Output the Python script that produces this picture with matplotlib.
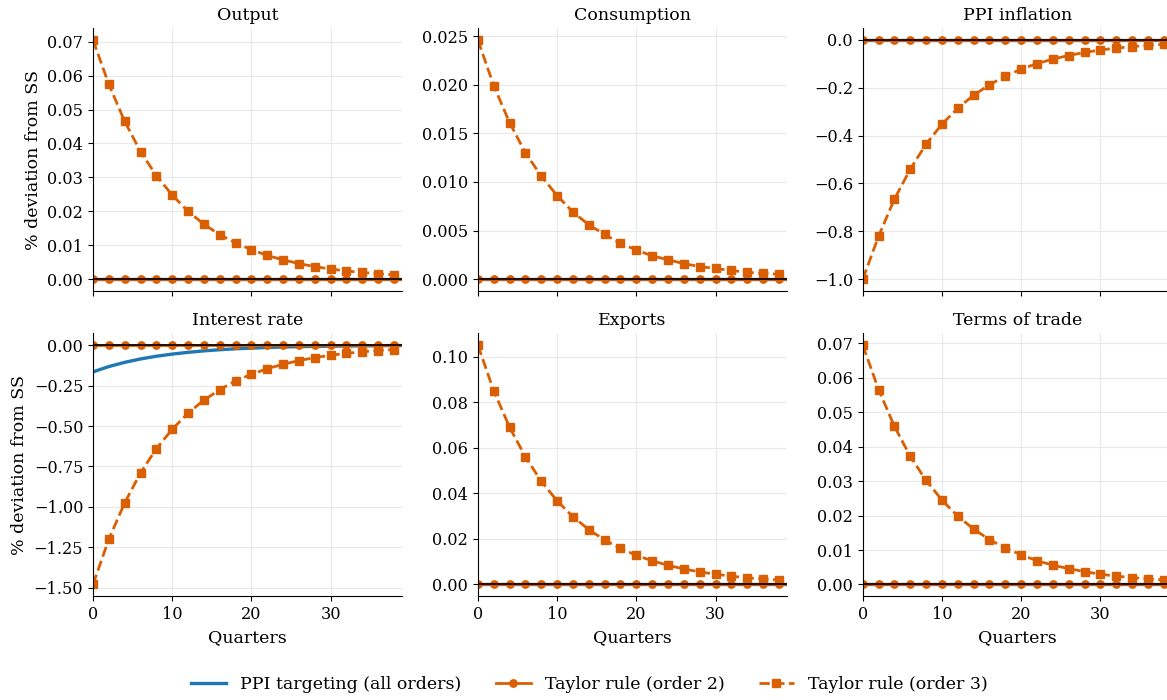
import numpy as np
import matplotlib
matplotlib.use("Agg")
import matplotlib.pyplot as plt

plt.rcParams['font.family'] = ['DejaVu Serif']

# quarters where responses are stored (every 2nd quarter, plus the last one)
quarters = [0, 2, 4, 6, 8, 10, 12, 14, 16, 18, 20, 22, 24, 26, 28, 30, 32, 34, 36, 38, 39]

titles = ["Output", "Consumption", "PPI inflation",
          "Interest rate", "Exports", "Terms of trade"]

# PPI targeting (all orders): only the interest rate moves
ppi_output = [0.0] * 21
ppi_consumption = [0.0] * 21
ppi_inflation = [0.0] * 21
ppi_interest = [-0.165, -0.132, -0.106, -0.085, -0.068, -0.055, -0.044, -0.035, -0.028,
                -0.022, -0.018, -0.014, -0.011, -0.009, -0.007, -0.006, -0.005, -0.004,
                -0.003, -0.002, -0.002]
ppi_exports = [0.0] * 21
ppi_tot = [0.0] * 21

# Taylor rule, second order solution
tr2_output = [0.0] * 21
tr2_consumption = [0.0] * 21
tr2_inflation = [0.0] * 21
tr2_interest = [0.0] * 21
tr2_exports = [0.0] * 21
tr2_tot = [0.0] * 21

# Taylor rule, third order solution
tr3_output = [0.0705, 0.0574, 0.0465, 0.0376, 0.0305, 0.0248, 0.0200, 0.0162, 0.0131,
              0.0107, 0.0087, 0.0070, 0.0057, 0.0046, 0.0037, 0.0030, 0.0024, 0.0020,
              0.0016, 0.0013, 0.0012]
tr3_consumption = [0.0246, 0.0199, 0.0161, 0.0130, 0.0106, 0.0086, 0.0069, 0.0056, 0.0046,
                   0.0037, 0.0030, 0.0024, 0.0020, 0.0016, 0.0013, 0.0011, 0.0009, 0.0007,
                   0.0006, 0.0005, 0.0004]
tr3_inflation = [-1.00, -0.82, -0.665, -0.54, -0.435, -0.352, -0.285, -0.231, -0.187,
                 -0.151, -0.122, -0.099, -0.080, -0.065, -0.052, -0.042, -0.034, -0.028,
                 -0.022, -0.018, -0.016]
tr3_interest = [-1.48, -1.20, -0.975, -0.79, -0.64, -0.52, -0.42, -0.34, -0.275,
                -0.22, -0.18, -0.145, -0.118, -0.095, -0.077, -0.062, -0.050, -0.041,
                -0.033, -0.027, -0.024]
tr3_exports = [0.105, 0.085, 0.069, 0.056, 0.0453, 0.0367, 0.0297, 0.0241, 0.0195,
               0.0158, 0.0128, 0.0104, 0.0084, 0.0068, 0.0055, 0.0045, 0.0036, 0.0029,
               0.0024, 0.0019, 0.0017]
tr3_tot = [0.0695, 0.0566, 0.0459, 0.0372, 0.0302, 0.0245, 0.0198, 0.0161, 0.0130,
           0.0106, 0.0086, 0.0069, 0.0056, 0.0046, 0.0037, 0.0030, 0.0024, 0.0020,
           0.0016, 0.0013, 0.0011]

ppi_all = [ppi_output, ppi_consumption, ppi_inflation, ppi_interest, ppi_exports, ppi_tot]
tr2_all = [tr2_output, tr2_consumption, tr2_inflation, tr2_interest, tr2_exports, tr2_tot]
tr3_all = [tr3_output, tr3_consumption, tr3_inflation, tr3_interest, tr3_exports, tr3_tot]

blue = '#1f77b4'
orange = '#d95f02'
marks = slice(0, 20)  # markers on the even quarters only

fig, axes = plt.subplots(2, 3, figsize=(11.67, 7.0), dpi=100, sharex=True)

for k, ax in enumerate(axes.flat):
    ax.plot(quarters, ppi_all[k], color=blue, lw=2.4, label='PPI targeting (all orders)')
    ax.plot(quarters, tr2_all[k], color=orange, lw=2, marker='o', ms=5.3,
            markevery=marks, label='Taylor rule (order 2)')
    ax.plot(quarters, tr3_all[k], color=orange, lw=2, ls='--', marker='s', ms=5.3,
            markevery=marks, label='Taylor rule (order 3)')
    ax.axhline(0, color='black', lw=1.2, zorder=4)
    ax.set_title(titles[k], fontsize=12.5)
    ax.set_xlim(0, 39)
    ax.grid(True, color='#e0e0e0', lw=0.8, alpha=0.7)
    ax.spines['top'].set_visible(False)
    ax.spines['right'].set_visible(False)
    ax.tick_params(labelsize=11.6)
    if k % 3 == 0:
        ax.set_ylabel('% deviation from SS', fontsize=12.5)
    if k >= 3:
        ax.set_xlabel('Quarters', fontsize=12.5)

handles, labels = axes[0, 0].get_legend_handles_labels()
fig.legend(handles, labels, loc='lower center', ncol=3, frameon=False,
           fontsize=12.5, bbox_to_anchor=(0.505, -0.012), columnspacing=2.0,
           handlelength=2.0)

plt.subplots_adjust(left=0.0797, right=1.004, top=0.96, bottom=0.148,
                    wspace=0.246, hspace=0.16)
plt.savefig('out.png')
